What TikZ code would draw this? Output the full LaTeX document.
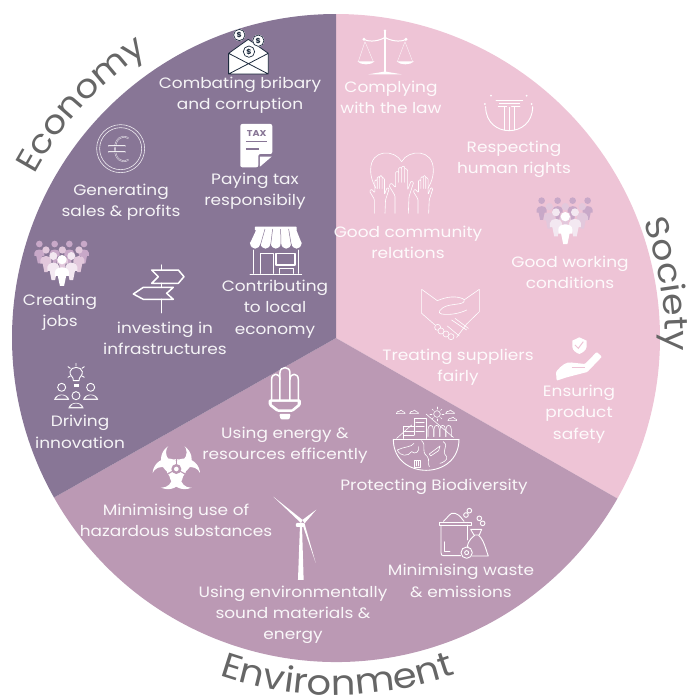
\documentclass[tikz,border=0pt]{standalone}
\usepackage{fontspec}
\setmainfont[FakeStretch=1.13]{Poppins}
\newfontfamily\titlefont[FakeStretch=1.1]{Poppins}
\usetikzlibrary{decorations.text}
\definecolor{econ}{HTML}{887696}
\definecolor{soc}{HTML}{EEC4D6}
\definecolor{env}{HTML}{BB99B4}
\definecolor{titlegray}{HTML}{666666}
\definecolor{inkblue}{HTML}{1D2B3E}
\definecolor{pa}{HTML}{C8A8C8}
\definecolor{pb}{HTML}{E2C8DC}
\definecolor{pc}{HTML}{F3E8F1}
\tikzset{
  lab/.style={font=\fontsize{15}{21.3}\selectfont, text=white, text opacity=.92, align=center, inner sep=0pt},
  z/.style n args={2}{shift={(#1,#2)},x=0.3333pt,y=-0.3333pt},
  ico/.style={draw=white, line width=.9pt, line join=round, line cap=round},
  thin ico/.style={draw=white, line width=.6pt, line join=round, line cap=round},
  thick ico/.style={draw=white, line width=1.5pt, line join=round, line cap=round},
}
\newcommand{\pers}[6]{% x y r h colour
  \begin{scope}[shift={(#1,#2)},xscale=#3,yscale=#3]
    \fill[#5] (0,0) circle (1);
    \fill[#5] (-1.5,2.7) .. controls (-1.5,1.3) and (1.5,1.3) .. (1.5,2.7)
       -- (1.5,{#4*.62}) -- (0.9,{#4*.62}) -- (0.45,#4) -- (-0.45,#4) -- (-0.9,{#4*.62}) -- (-1.5,{#4*.62}) -- cycle;
  \end{scope}#6}
\newcommand{\crowd}{%
  \foreach \a in {605,653,698,743} {\pers{\a}{602}{10}{5.8}{pa}{}}
  \foreach \a in {628,676,727} {\pers{\a}{620}{11}{6}{pb}{}}
  \foreach \a in {648,705} {\pers{\a}{637}{12}{6}{pc}{}}
  \pers{676}{650}{14}{5.9}{white}{}
}
\newcommand{\handic}[3]{%
  \draw[thin ico,shift={(#1,#2)},xscale=#3,yscale=#3,rounded corners=1pt]
    (-20,65) -- (-20,12) -- (-38,-18) -- (-31,-26) -- (-18,-12) -- (-18,-60) -- (-9,-60) -- (-9,-28)
    (-9,-60) -- (-9,-72) -- (0,-72) -- (0,-28) (0,-72) -- (0,-76) -- (9,-76) -- (9,-28) (9,-70) -- (18,-66) -- (18,-5) -- (28,-32) -- (36,-28) -- (22,15) -- (20,65);
}
\begin{document}
\begin{tikzpicture}[x=1pt,y=-1pt]
\useasboundingbox (0,0) rectangle (687,697);
% ---- wheel and headings (y upward inside this scope)
\begin{scope}[shift={(336,338)},y=1pt]
  \fill[soc] (0,0) -- (90:324pt) arc[start angle=90,end angle=-29.7,radius=324pt] -- cycle;
  \fill[env] (0,0) -- (209.5:324pt) arc[start angle=209.5,end angle=330.3,radius=324pt] -- cycle;
  \fill[econ] (0,0) -- (90:324pt) arc[start angle=90,end angle=209.5,radius=324pt] -- cycle;
  \path[decorate,decoration={text along path,text align=center,text={|\titlefont\fontsize{33}{33}\selectfont\color{titlegray}|Economy}}]
     (162:343pt) arc[start angle=162,end angle=113,radius=343pt];
  \path[decorate,decoration={text along path,text align=center,text={|\titlefont\fontsize{33}{33}\selectfont\color{titlegray}|Society}}]
     (36:329pt) arc[start angle=36,end angle=-17.5,radius=329pt];
  \path[decorate,decoration={text along path,text align=center,text={|\titlefont\fontsize{35}{35}\selectfont\color{titlegray}|Environment}}]
     (238:357pt) arc[start angle=238,end angle=302.5,radius=357pt];
\end{scope}
% ---- labels
\node[lab] (l1) at (240,95) {Combating bribary\\and corruption};
\node[lab] (l2) at (121,202) {Generating\\sales \& profits};
\node[lab] (l3) at (255,191.5) {Paying tax\\responsibily};
\node[lab] (l4) at (60,312) {Creating\\jobs};
\node[lab] (l5) at (165,338.5) {investing in\\infrastructures};
\node[lab] (l6) at (275,309) {Contributing\\to local\\economy};
\node[lab] (l7) at (80,432) {Driving\\innovation};
\node[lab] (l8) at (391,97.5) {Complying\\with the law};
\node[lab] (l9) at (514,159) {Respecting\\human rights};
\node[lab] (l10) at (408,242.5) {Good community\\relations};
\node[lab] (l11) at (570,272.5) {Good working\\conditions};
\node[lab] (l12) at (458,367) {Treating suppliers\\fairly};
\node[lab] (l13) at (579,414) {Ensuring\\product\\safety};
\node[lab] (l14) at (285,445.5) {Using energy \&\\resources efficently};
\node[lab] (l15) at (434,486.5) {Protecting Biodiversity};
\node[lab] (l16) at (176,520.5) {Minimising use of\\hazardous substances};
\node[lab] (l17) at (461,581) {Minimising waste\\\& emissions};
\node[lab] (l18) at (293,615) {Using environmentally\\sound materials \&\\energy};
% ---- envelope
\begin{scope}[z={0}{0}]
  \fill[white] (686,160) -- (745,118) -- (805,160) -- (805,222) -- (686,222) -- cycle;
  \draw[inkblue,line width=.8pt,line join=round] (686,160) -- (745,118) -- (805,160) -- (805,222) -- (686,222) -- cycle
     (686,160) -- (805,222) (686,222) -- (805,160);
  \foreach \a/\b in {718/105,775/122,747/155} {
    \fill[white] (\a,\b) circle (18);
    \draw[inkblue,line width=.7pt] (\a,\b) circle (17);
    \node[inner sep=0pt,text=inkblue,font=\fontsize{7}{7}\bfseries\selectfont] at (\a,\b) {\$};
  }
% euro
  \draw[thin ico,opacity=.85] (362,446) circle (72) (362,446) circle (63);
  \draw[white,opacity=.85,line width=.4pt,double=econ,double distance=.8pt,line cap=round]
     (384,414) .. controls (362,402) and (345,420) .. (345,447) .. controls (345,474) and (362,492) .. (384,480);
  \draw[white,opacity=.85,line width=.4pt,double=econ,double distance=.7pt,line cap=round] (326,438) -- (375,438) (326,456) -- (375,456);
% tax sheet
  \fill[white,rounded corners=2pt] (721,372) -- (817,372) -- (817,462) -- (775,462) -- (775,502) -- (721,502) -- cycle;
  \fill[white] (780,470) -- (815,470) -- (780,500) -- cycle;
  \node[inner sep=0pt,text=econ,font=\fontsize{8.5}{8.5}\bfseries\selectfont] (tax) at (770,400) {TAX};
  \draw[econ,line width=1.2pt] (738,425) -- (800,425) (738,447) -- (776,447);
  \fill[white,rounded corners=.5pt] (765,680) rectangle (890,691);
\end{scope}
% ---- store, people, signpost, idea, lamp
\begin{scope}[z={0}{230}]
  \fill[white] (770,-3) -- (888,-3) -- (905,40) -- (750,40) -- cycle;
  \fill[white] (750,38) .. controls (752,62) and (779,62) .. (781,38) .. controls (783,62) and (810,62) .. (812,38)
     .. controls (814,62) and (841,62) .. (843,38) .. controls (845,62) and (872,62) .. (874,38) .. controls (876,62) and (903,62) .. (905,38) -- cycle;
  \draw[econ,line width=.5pt] (795,-3) -- (781,46) (818,-3) -- (812,46) (842,-3) -- (843,46) (866,-3) -- (874,46);
  \draw[ico] (760,60) -- (760,130) (895,60) -- (895,130) (750,132) -- (905,132);
  \draw[ico] (780,130) -- (780,70) -- (820,70) -- (820,130);
  \draw[thick ico] (828,70) rectangle (885,105) ;
  \draw[ico] (838,130) -- (838,115) -- (880,115) -- (880,130);
  \foreach \a in {118,164,208,252} {\pers{\a}{42}{10}{5.8}{pa}{}}
  \foreach \a in {138,187,237} {\pers{\a}{60}{11}{6}{pb}{}}
  \foreach \a in {160,214} {\pers{\a}{78}{12}{6}{pc}{}}
  \pers{186}{89}{14}{5.6}{white}{}
  \draw[thick ico] (485,105) -- (485,120) (485,160) -- (485,172) (485,208) -- (485,248);
  \draw[thick ico] (455,120) -- (535,120) -- (552,140) -- (535,160) -- (455,160) -- (475,140) -- cycle;
  \draw[thick ico] (520,172) -- (430,172) -- (400,192) -- (430,208) -- (520,208) -- (500,190) -- cycle;
  % idea
  \draw[ico] (220,452) .. controls (222,440) and (208,438) .. (210,425) .. controls (213,408) and (244,408) .. (247,425) .. controls (249,438) and (236,440) .. (237,452) -- cycle;
  \fill[white] (221,463) rectangle (236,472);
  \draw[ico] (228,400) -- (228,408) (204,410) -- (211,415) (253,410) -- (246,415) (204,442) -- (211,438) (253,442) -- (246,438);
  \foreach \a/\b in {185/472,272/472,228/497} {
    \draw[ico] (\a,\b) circle (12);
    \fill[white,opacity=.9] (\a-23,\b+38) .. controls (\a-18,\b+16) and (\a+18,\b+16) .. (\a+23,\b+38) -- cycle;
    \fill[econ] (\a-17,\b+34) .. controls (\a-12,\b+20) and (\a+12,\b+20) .. (\a+17,\b+34) -- cycle;
  }
  % lamp
  \draw[thick ico] (815,510) -- (815,448) .. controls (815,428) and (840,428) .. (840,448) -- (840,510);
  \draw[thick ico] (840,448) -- (840,428) .. controls (840,408) and (870,408) .. (870,428) -- (870,510);
  \draw[thick ico] (870,448) .. controls (870,428) and (895,428) .. (895,448) -- (895,510);
  \fill[white,rounded corners=1.5pt] (806,508) -- (903,508) -- (903,526) -- (878,546) -- (832,546) -- (806,526) -- cycle;
  \fill[env] (816,516) -- (893,516) -- (893,523) -- (875,538) -- (836,538) -- (816,523) -- cycle;
  \fill[white,rounded corners=1pt] (838,552) -- (872,552) -- (868,568) -- (842,568) -- cycle;
\end{scope}
% ---- society icons
\begin{scope}[z={340}{0}]
  % scales
  \draw[white,line width=1.1pt,line cap=round] (135,92) -- (135,215);
  \fill[white] (135,205) -- (138,215) -- (185,223) -- (85,223) -- (132,215) -- cycle;
  \draw[white,line width=1pt,line cap=round] (72,118) .. controls (90,128) and (120,122) .. (135,112) .. controls (150,122) and (180,128) .. (198,118);
  \fill[white] (135,92) circle (4) (72,118) circle (5) (198,118) circle (5);
  \draw[white,line width=.3pt] (75,125) -- (55,185) (75,125) -- (100,185) (195,125) -- (172,185) (195,125) -- (218,185);
  \fill[white] (52,184) .. controls (62,196) and (94,196) .. (104,184) -- cycle (170,184) .. controls (180,196) and (212,196) .. (222,184) -- cycle;
  % pillar
  \draw[ico] (437,320) .. controls (437,416) and (578,416) .. (578,320);
  \draw[ico] (468,300) -- (548,300);
  \draw[white,line width=1.2pt] (478,310) -- (540,310);
  \draw[ico] (475,320) -- (500,320) (515,320) -- (540,320);
  \draw[ico] (492,322) -- (492,390) (507,322) -- (507,392) (522,322) -- (522,390);
  \foreach \a/\b in {435/312,453/287,575/312,560/287} {\fill[white] (\a,\b) circle (3);}
  % heart + hands
  \draw[thin ico] (185,485) .. controls (165,448) and (92,445) .. (92,510) .. controls (92,535) and (100,550) .. (108,565);
  \draw[thin ico] (185,485) .. controls (205,448) and (280,445) .. (280,510) .. controls (280,535) and (272,550) .. (264,565);
  \handic{185}{575}{1}
  \handic{119}{588}{.8}
  \handic{250}{588}{.8}
  % crowd
  \crowd
\end{scope}
\begin{scope}[z={340}{250}]
  % handshake
  \draw[thin ico] (292,152) -- (245,118) -- (245,190) -- (285,225);
  \draw[thin ico] (372,150) -- (418,118) -- (418,185) -- (380,222) -- (350,262);
  \draw[thin ico] (292,152) .. controls (320,140) and (350,136) .. (372,148) .. controls (378,165) and (345,160) .. (320,168) .. controls (300,175) and (290,190) .. (305,192) .. controls (330,196) and (360,190) .. (380,180);
  \draw[thin ico] (335,210) -- (380,240) (322,228) -- (358,258) (345,205) -- (385,235);
  \foreach \a/\b in {293/232,303/243,318/252,333/260} {\draw[thin ico,fill=soc] (\a,\b) circle (9);}
  % hand with shield
  \fill[white] (697,272) -- (718,262) -- (740,272) -- (740,290) .. controls (738,302) and (728,308) .. (718,312) .. controls (708,308) and (698,302) .. (697,290) -- cycle;
  \draw[soc,line width=1pt] (705,285) -- (715,295) -- (730,275);
  \fill[white,rounded corners=1pt] (648,366) .. controls (665,345) and (680,335) .. (697,338) -- (735,342) -- (770,306) -- (786,320) -- (742,366) -- (680,382) -- (650,392) -- cycle;
  \draw[soc,line width=.8pt] (695,351) -- (735,351);
  % globe
  \draw[ico] (160,568) -- (357,568);
  \draw[ico] (160,568) .. controls (160,692) and (357,692) .. (357,568);
  \draw[thin ico] (170,565) -- (215,525) (258,492) -- (340,562);
  \draw[ico] (222,555) -- (222,505) -- (258,505) -- (258,565);
  \draw[thin ico] (227,517) -- (253,517) (227,530) -- (253,530) (227,543) -- (253,543);
  \draw[ico] (190,565) -- (190,530) -- (222,530);
  \draw[thin ico] (190,545) -- (222,545) (190,555) -- (222,555);
  \foreach \a in {272,290,308,326} {\draw[thin ico] (\a-8,560) -- (\a-8,538) .. controls (\a-8,522) and (\a+8,522) .. (\a+8,538) -- (\a+8,560);}
  \draw[thin ico] (291,492) circle (10);
  \foreach \r in {0,45,...,315} {\draw[thin ico,shift={(291,492)}] (\r:15) -- (\r:21);}
  \foreach \a/\b in {182/487,222/487,330/487,337/508} {\draw[thin ico] (\a-13,\b+4) .. controls (\a-13,\b-3) and (\a-7,\b-3) .. (\a-4,\b-3) .. controls (\a-2,\b-8) and (\a+6,\b-8) .. (\a+7,\b-2) .. controls (\a+12,\b-2) and (\a+14,\b+2) .. (\a+13,\b+4) -- cycle;}
  \draw[thin ico] (172,600) .. controls (190,590) and (215,592) .. (222,580) (172,600) .. controls (180,620) and (205,620) .. (215,605) .. controls (225,615) and (240,605) .. (235,590);
  \draw[thin ico] (245,572) .. controls (262,590) and (240,600) .. (262,620) .. controls (270,630) and (262,640) .. (268,650);
  \draw[thin ico] (310,575) .. controls (330,590) and (300,600) .. (320,620) .. controls (325,630) and (305,640) .. (300,640);
  \draw[thin ico] (268,612) -- (300,588) -- (296,602) -- (272,618) -- cycle;
  \draw[thin ico] (224,630) rectangle (240,652) (228,634) -- (228,648) (236,634) -- (236,648);
\end{scope}
% ---- environment icons
\begin{scope}[z={60}{440}]
  % biohazard: three crescents, a ring and a hub
  \begin{scope}[shift={(349,87)},y=0.3333pt]
    \foreach \r in {90,210,330} {
      \begin{scope}
        \clip (\r:29) circle (46);
        \fill[white,even odd rule] (-120,-120) rectangle (120,120) (\r:50) circle (31);
      \end{scope}
    }
    \fill[env] (0,0) circle (15);
    \draw[white,line width=1.2pt] (0,0) circle (28);
    \foreach \r in {90,210,330} {\draw[env,line width=1.1pt] (\r:9) -- (\r:40);}
    \fill[white] (0,0) circle (7);
  \end{scope}
  % turbine
  \fill[white] (720,256) -- (726,256) -- (731,420) -- (714,420) -- cycle;
  \fill[white,rounded corners=1pt] (708,249) rectangle (732,261);
  \fill[white] (640,170) -- (728,240) -- (723,249) -- cycle;
  \fill[white] (769,209) -- (734,250) -- (727,240) -- cycle;
  \fill[white] (767,368) -- (733,248) -- (727,252) -- cycle;
\end{scope}
\begin{scope}[z={340}{460}]
  % waste
  \draw[ico] (298,195) -- (298,186) -- (395,186) -- (395,195) -- cycle;
  \draw[ico] (310,184) .. controls (325,172) and (330,155) .. (345,160) .. controls (360,165) and (365,175) .. (372,184);
  \draw[ico] (303,195) -- (303,278) .. controls (303,285) and (306,287) .. (310,287) -- (362,287);
  \draw[ico] (383,195) -- (383,240);
  \draw[thin ico] (313,245) -- (313,275) -- (330,275);
  \draw[ico] (380,278) circle (17);
  \draw[ico] (380,278) circle (6);
  \draw[ico] (392,208) -- (425,208) -- (418,225) -- (402,225) -- cycle;
  \draw[ico] (404,226) .. controls (385,240) and (378,262) .. (385,262);
  \draw[ico] (416,226) .. controls (432,240) and (438,270) .. (445,288) -- (397,288);
  \foreach \a/\b in {388/152,378/165,418/175,428/190} {\draw[ico] (\a,\b) circle (7);}
\end{scope}
\end{tikzpicture}
\end{document}
